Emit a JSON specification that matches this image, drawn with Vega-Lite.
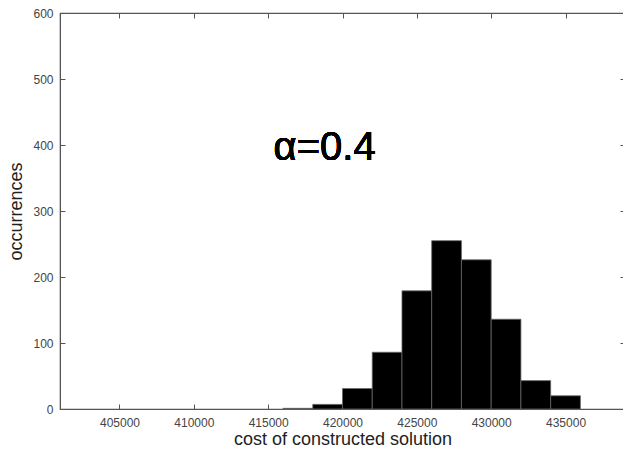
{
  "$schema": "https://vega.github.io/schema/vega-lite/v6.json",
  "width": 565,
  "height": 396,
  "autosize": "none",
  "padding": {"left": 60, "top": 13, "right": 0, "bottom": 41},
  "background": "white",
  "config": {
    "font": "Liberation Sans",
    "view": {"stroke": "#555", "strokeWidth": 1.2},
    "axis": {
      "grid": false,
      "domainColor": "#555",
      "tickColor": "#555",
      "labelColor": "#444",
      "titleColor": "#222",
      "labelFontSize": 12,
      "titleFontSize": 18,
      "titleFontWeight": "normal",
      "tickSize": -5
    }
  },
  "data": {
    "values": [
      {"bin_start": 416000, "bin_end": 418000, "count": 1},
      {"bin_start": 418000, "bin_end": 420000, "count": 7},
      {"bin_start": 420000, "bin_end": 422000, "count": 31},
      {"bin_start": 422000, "bin_end": 424000, "count": 86},
      {"bin_start": 424000, "bin_end": 426000, "count": 179},
      {"bin_start": 426000, "bin_end": 428000, "count": 255},
      {"bin_start": 428000, "bin_end": 430000, "count": 226},
      {"bin_start": 430000, "bin_end": 432000, "count": 136},
      {"bin_start": 432000, "bin_end": 434000, "count": 43},
      {"bin_start": 434000, "bin_end": 436000, "count": 20}
    ]
  },
  "resolve": {"axis": {"x": "independent", "y": "independent"}},
  "layer": [
    {
      "mark": {"type": "bar", "fill": "black", "stroke": "#666", "strokeWidth": 0.8},
      "encoding": {
        "x": {
          "field": "bin_start",
          "type": "quantitative",
          "scale": {"domain": [401000, 439000], "nice": false, "zero": false},
          "axis": {
            "values": [405000, 410000, 415000, 420000, 425000, 430000, 435000],
            "format": "d",
            "title": "cost of constructed solution",
            "labelPadding": 13,
            "titlePadding": 2
          }
        },
        "x2": {"field": "bin_end"},
        "y": {
          "field": "count",
          "type": "quantitative",
          "scale": {"domain": [0, 600], "nice": false},
          "axis": {
            "values": [0, 100, 200, 300, 400, 500, 600],
            "title": "occurrences",
            "labelPadding": 12,
            "titlePadding": 7
          }
        },
        "y2": {"datum": 0}
      }
    },
    {
      "mark": {"type": "text", "text": "α=0.4", "fontSize": 40, "font": "Liberation Sans", "color": "black", "baseline": "middle", "align": "center"},
      "encoding": {
        "x": {"datum": 418800, "type": "quantitative", "axis": null},
        "y": {"datum": 395, "type": "quantitative", "axis": null}
      }
    },
    {
      "mark": {"type": "rule", "opacity": 0},
      "encoding": {
        "x": {
          "datum": 405000,
          "type": "quantitative",
          "axis": {"orient": "top", "labels": false, "title": null, "domain": false,
                   "values": [405000, 410000, 415000, 420000, 425000, 430000, 435000]}
        },
        "y": {
          "datum": 0,
          "type": "quantitative",
          "axis": {"orient": "right", "labels": false, "title": null, "domain": false,
                   "values": [0, 100, 200, 300, 400, 500, 600]}
        }
      }
    }
  ]
}
